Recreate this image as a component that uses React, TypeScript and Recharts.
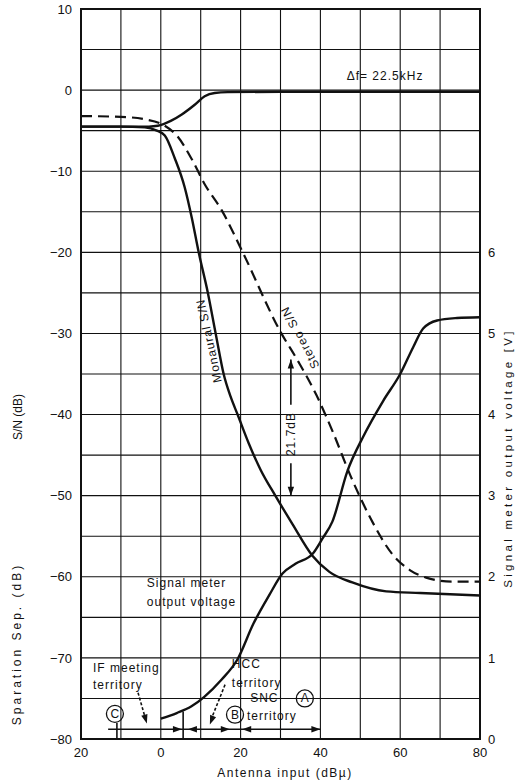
import React from "react"
import {
  LineChart,
  Line,
  XAxis,
  YAxis,
  CartesianGrid,
  ReferenceArea,
  ReferenceLine,
  ReferenceDot,
} from "recharts"

const FONT = '"Liberation Sans", Arial, Helvetica, sans-serif'
const INK = "#111"

// [antenna input dBµ, dB]
const monauralSN = [
  [-20, -4.5], [-10, -4.5], [-4, -4.6], [-1, -5.0], [1, -5.6], [3.5, -8.4], [6, -12],
  [7.75, -15.7], [9.5, -20], [11.8, -25], [13.75, -30], [15.75, -35], [17.5, -37.8],
  [19.25, -40], [22, -43.5], [25, -46.8], [28.7, -50], [33, -53.5], [38, -57.4],
  [42.25, -59.4], [48, -60.7], [56.5, -61.8], [65, -62], [80, -62.3],
]
const stereoSN = [
  [-20, -3.2], [-10, -3.3], [-4, -3.6], [1, -4.4], [4, -5.6], [7.75, -8.5], [11, -11.6],
  [15.25, -14.8], [20.25, -19.7], [30, -29.8], [34.5, -33.5], [39, -37.6], [43.25, -42.3],
  [47.5, -47.5], [53, -53.2], [58, -57.2], [62.5, -59.2], [66.5, -60.1], [73, -60.6], [80, -60.6],
]
// Δf = 22.5kHz curve
const deltaF = [
  [-20, -4.5], [-10, -4.5], [-3, -4.5], [-0.75, -4.4], [2.5, -3.8], [5.25, -3.0], [8.5, -1.8],
  [11, -0.75], [13.5, -0.35], [16.75, -0.25], [30, -0.2], [80, -0.2],
]
// [antenna input dBµ, volts]
const signalMeter = [
  [0, 0.25], [4, 0.32], [7.6, 0.4], [10.9, 0.52], [15.2, 0.73], [19.2, 0.98], [23.2, 1.42],
  [27.25, 1.78], [30.5, 2.04], [33.75, 2.16], [38, 2.28], [40.5, 2.47], [43, 2.68],
  [46.75, 3.3], [50.75, 3.73], [55.75, 4.17], [60, 4.5], [63.25, 4.83], [65.75, 5.06],
  [69.25, 5.16], [74.25, 5.19], [80, 5.2],
]

const xTicks = [-20, -10, 0, 10, 20, 30, 40, 50, 60, 70, 80]
const xTickLabels: Record<string, string> = { "-20": "20", "0": "0", "20": "20", "40": "40", "60": "60", "80": "80" }
const dbTicks = [-80, -75, -70, -65, -60, -55, -50, -45, -40, -35, -30, -25, -20, -15, -10, -5, 0, 5, 10]
const dbTickLabels: Record<string, string> = {
  "-80": "−80", "-70": "−70", "-60": "−60", "-50": "−50", "-40": "−40",
  "-30": "−30", "-20": "−20", "-10": "−10", "0": "0", "10": "10",
}
const vTicks = [0, 1, 2, 3, 4, 5, 6]

const toPts = (arr: number[][]) => arr.map(([x, y]) => ({ x, y }))

// annotation placement (data coords)
const notes = [
  { x: 56.2, y: 1.7, text: "Δf= 22.5kHz", anchor: "middle", angle: 0 },
  { x: 12.1, y: -30.9, text: "Monaural S/N", anchor: "middle", angle: -102 },
  { x: 34.9, y: -30.5, text: "Stereo S/N", anchor: "middle", angle: -118 },
  { x: 32.6, y: -42.4, text: "21.7dB", anchor: "middle", angle: -90 },
  { x: -3.5, y: -60.8, text: "Signal meter", anchor: "start", angle: 0 },
  { x: -3.5, y: -63.1, text: "output voltage", anchor: "start", angle: 0 },
  { x: -17, y: -71.2, text: "IF meeting", anchor: "start", angle: 0 },
  { x: -17, y: -73.3, text: "territory", anchor: "start", angle: 0 },
  { x: 17.8, y: -70.8, text: "HCC", anchor: "start", angle: 0 },
  { x: 17.8, y: -73.1, text: "territory", anchor: "start", angle: 0 },
  { x: 22.4, y: -75, text: "SNC", anchor: "start", angle: 0 },
  { x: 21.6, y: -77.2, text: "territory", anchor: "start", angle: 0 },
]
const circled = [
  { x: -11.5, y: -76.9, letter: "C" },
  { x: 18.6, y: -77.0, letter: "B" },
  { x: 36.1, y: -75, letter: "A" },
]
const arrowHeads = [
  { x: 32.6, y: -33.2, angle: -90 },
  { x: 32.6, y: -50, angle: 90 },
  { x: 5.3, y: -78.8, angle: 0 },
  { x: 6.8, y: -78.8, angle: 180 },
  { x: 17.3, y: -78.8, angle: 0 },
  { x: 20.4, y: -78.8, angle: 180 },
  { x: 40, y: -78.8, angle: 0 },
  { x: -3.5, y: -78.1, angle: 74 },
  { x: 12.3, y: -78.2, angle: 111 },
]
const segments = [
  { from: [32.6, -33.2], to: [32.6, -38.8], dash: undefined },
  { from: [32.6, -46], to: [32.6, -50], dash: undefined },
  { from: [-13.2, -78.8], to: [40, -78.8], dash: undefined },
  { from: [-11, -78], to: [-11, -80], dash: undefined },
  { from: [5.6, -76.6], to: [5.6, -80], dash: undefined },
  { from: [-5.7, -74.3], to: [-3.9, -77.4], dash: "3 2" },
  { from: [16.1, -73.3], to: [12.6, -77.6], dash: "3 2" },
]

const tickStyle = { fill: INK, fontSize: 13, fontFamily: FONT }

function Note(p: any) {
  const { cx, cy, text, anchor, angle } = p
  return (
    <text
      x={cx}
      y={cy}
      transform={angle ? `rotate(${angle} ${cx} ${cy})` : undefined}
      textAnchor={anchor}
      dominantBaseline="central"
      fontSize={12}
      letterSpacing={1}
      fill={INK}
      fontFamily={FONT}
    >
      {text}
    </text>
  )
}

function Head(p: any) {
  const { cx, cy, angle } = p
  return <polygon points="0,0 -9,-3.2 -9,3.2" transform={`translate(${cx} ${cy}) rotate(${angle})`} fill={INK} />
}

function Circled(p: any) {
  const { cx, cy, letter } = p
  return (
    <g>
      <circle cx={cx} cy={cy} r={8.5} fill="none" stroke={INK} strokeWidth={1.3} />
      <text x={cx} y={cy} textAnchor="middle" dominantBaseline="central" fontSize={12} fill={INK} fontFamily={FONT}>
        {letter}
      </text>
    </g>
  )
}

export default function App() {
  return (
    <div style={{ position: "absolute", left: 0, top: 0, width: 517, height: 784, background: "#fff" }}>
      <LineChart width={517} height={784} margin={{ top: 9, right: 0, bottom: 0, left: 0 }}>
        <CartesianGrid yAxisId="db" stroke="#111" strokeWidth={1.1} />
        <XAxis
          type="number"
          dataKey="x"
          domain={[-20, 80]}
          ticks={xTicks}
          tickFormatter={(v: number) => xTickLabels[String(v)] ?? ""}
          height={45}
          axisLine={false}
          tickLine={false}
          tickSize={0}
          tickMargin={9}
          tick={tickStyle}
          allowDataOverflow
        />
        <YAxis
          yAxisId="db"
          type="number"
          domain={[-80, 10]}
          ticks={dbTicks}
          tickFormatter={(v: number) => dbTickLabels[String(v)] ?? ""}
          width={81}
          axisLine={false}
          tickLine={false}
          tickSize={0}
          tickMargin={9}
          tick={tickStyle}
          allowDataOverflow
        />
        <YAxis
          yAxisId="v"
          orientation="right"
          type="number"
          domain={[0, 9]}
          ticks={vTicks}
          width={37}
          axisLine={false}
          tickLine={false}
          tickSize={0}
          tickMargin={8}
          tick={tickStyle}
          allowDataOverflow
        />
        <ReferenceArea yAxisId="db" x1={-20} x2={80} y1={-80} y2={10} fill="none" stroke={INK} strokeWidth={2} />

        <Line yAxisId="db" data={toPts(deltaF)} dataKey="y" type="monotone" stroke={INK} strokeWidth={2.4} dot={false} activeDot={false} isAnimationActive={false} />
        <Line yAxisId="db" data={toPts(monauralSN)} dataKey="y" type="monotone" stroke={INK} strokeWidth={2.4} dot={false} activeDot={false} isAnimationActive={false} />
        <Line yAxisId="db" data={toPts(stereoSN)} dataKey="y" type="monotone" stroke={INK} strokeWidth={2.2} strokeDasharray="11 6" dot={false} activeDot={false} isAnimationActive={false} />
        <Line yAxisId="v" data={toPts(signalMeter)} dataKey="y" type="monotone" stroke={INK} strokeWidth={2.4} dot={false} activeDot={false} isAnimationActive={false} />

        {segments.map((s, i) => (
          <ReferenceLine
            key={`seg-${i}`}
            yAxisId="db"
            segment={[{ x: s.from[0], y: s.from[1] }, { x: s.to[0], y: s.to[1] }]}
            stroke={INK}
            strokeWidth={1.6}
            strokeDasharray={s.dash}
          />
        ))}
        {arrowHeads.map((a, i) => (
          <ReferenceDot key={`ah-${i}`} yAxisId="db" x={a.x} y={a.y} r={0} shape={(p: any) => <Head {...p} angle={a.angle} />} />
        ))}
        {circled.map((c, i) => (
          <ReferenceDot key={`c-${i}`} yAxisId="db" x={c.x} y={c.y} r={8} shape={(p: any) => <Circled {...p} letter={c.letter} />} />
        ))}
        {notes.map((n, i) => (
          <ReferenceDot
            key={`n-${i}`}
            yAxisId="db"
            x={n.x}
            y={n.y}
            r={0}
            shape={(p: any) => <Note cx={p.cx} cy={p.cy} text={n.text} anchor={n.anchor} angle={n.angle} />}
          />
        ))}
      </LineChart>
      <svg width={517} height={784} style={{ position: "absolute", left: 0, top: 0, pointerEvents: "none" }}>
        <g fontFamily={FONT} fontSize={12} fill={INK}>
          <text x={18} y={417} transform="rotate(-90 18 417)" textAnchor="middle" dominantBaseline="central">S/N (dB)</text>
          <text x={17} y={644} transform="rotate(-90 17 644)" textAnchor="middle" dominantBaseline="central" letterSpacing={3}>
            Sparation Sep. (dB)
          </text>
          <text x={508} y={458} transform="rotate(-90 508 458)" textAnchor="middle" dominantBaseline="central" fontSize={11.5} letterSpacing={3.3}>
            Signal meter output voltage [V]
          </text>
          <text x={285} y={773} textAnchor="middle" dominantBaseline="central" letterSpacing={1.5}>
            Antenna input (dBµ)
          </text>
        </g>
      </svg>
    </div>
  )
}
